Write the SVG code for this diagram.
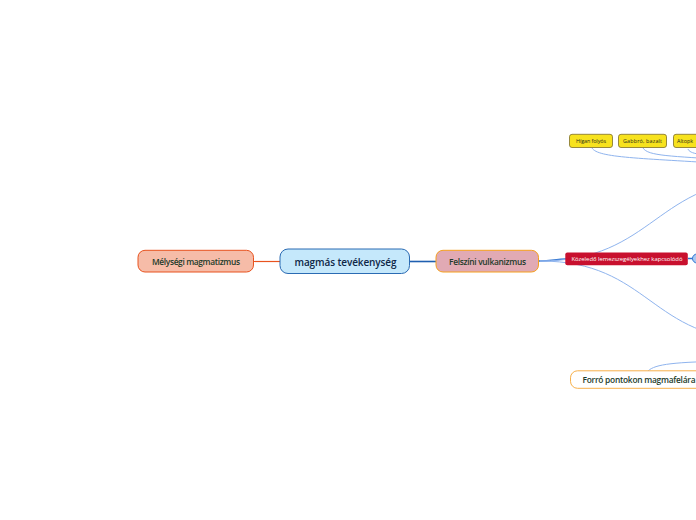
<svg xmlns="http://www.w3.org/2000/svg" width="696" height="520" viewBox="0 0 696 520">
<style>
  text { font-family: "Open Sans", "Noto Sans", "Liberation Sans", sans-serif; dominant-baseline: central; text-anchor: middle; }
  .thin { fill: none; stroke: #8fb4ee; stroke-width: 1; }
  .main { font-size: 8.4px; font-weight: 600; fill: #1d3b2a; }
  .yel rect { fill: #f7e21e; stroke: #7d6f2a; stroke-width: 0.8; }
  .yel text { font-size: 5.4px; fill: #2a2a1a; }
</style>
<rect width="696" height="520" fill="#ffffff"/>
<g id="connectors">
  <path d="M254,261.5 H280" stroke="#e8531f" stroke-width="1.2" fill="none"/>
  <path d="M410,261.5 H436" stroke="#1f5fb0" stroke-width="1.6" fill="none"/>
  <path d="M539,261 C552,261 556,259 566,259" stroke="#2f74d0" stroke-width="1.5" fill="none"/>
  <path class="thin" d="M540,261 C655,261 655,179 770,179"/>
  <path class="thin" d="M540,261 C650,261 650,340 760,340"/>
  <path d="M688,258.5 H693" stroke="#2f74d0" stroke-width="1.5" fill="none"/>
  <path class="thin" d="M592,148 C598,158 640,158 730,164"/>
  <path class="thin" d="M643,148 C648,156 670,156 730,160"/>
  <path class="thin" d="M688,149 C690,154 700,155 730,157"/>
  <path class="thin" d="M648,371 C655,364 675,362 730,361"/>
</g>
<g id="node-center">
  <rect x="280" y="249" width="129.5" height="24.5" rx="8" fill="#c5e8fb" stroke="#2b6bb3" stroke-width="1"/>
  <text x="345.5" y="261.5" textLength="102" style="font-size:10px;font-weight:600;fill:#0f2747">magmás tevékenység</text>
</g>
<g id="node-melysegi">
  <rect x="138" y="250.3" width="115.5" height="21.7" rx="7" fill="#f6bca8" stroke="#e8531f" stroke-width="1"/>
  <text class="main" x="196" y="261.3" textLength="88">Mélységi magmatizmus</text>
</g>
<g id="node-felszini">
  <rect x="436" y="250.3" width="102.5" height="21.7" rx="7" fill="#e1aab4" stroke="#f5a01f" stroke-width="1"/>
  <text class="main" x="487.5" y="261.3" textLength="77">Felszíni vulkanizmus</text>
</g>
<g id="node-kozeledo">
  <rect x="565.3" y="252.5" width="122.5" height="12.8" rx="2" fill="#c8102e"/>
  <text x="627" y="259" textLength="111" style="font-size:5.9px;fill:#ffffff">Közeledő lemezszegélyekhez kapcsolódó</text>
</g>
<g id="node-toggle">
  <circle cx="697" cy="258.5" r="4.5" fill="#a9c9f2" stroke="#2f74d0" stroke-width="1"/>
</g>
<g id="node-higan" class="yel">
  <rect x="569.5" y="134.3" width="43" height="13.2" rx="2.5"/>
  <text x="591" y="141" textLength="30">Hígan folyós</text>
</g>
<g id="node-gabbro" class="yel">
  <rect x="618.5" y="134.3" width="48" height="13.2" rx="2.5"/>
  <text x="642.5" y="141" textLength="39">Gabbró, bazalt</text>
</g>
<g id="node-altopk" class="yel">
  <rect x="673.5" y="134.3" width="48" height="13.2" rx="2.5"/>
  <text x="677" y="141" style="text-anchor:start">Altopk</text>
</g>
<g id="node-forro">
  <rect x="570.5" y="370.8" width="160" height="17.5" rx="7" fill="#ffffff" stroke="#f7b04a" stroke-width="1"/>
  <text class="main" x="582.5" y="379.6" textLength="113" style="text-anchor:start">Forró pontokon magmafelára</text>
</g>
</svg>
